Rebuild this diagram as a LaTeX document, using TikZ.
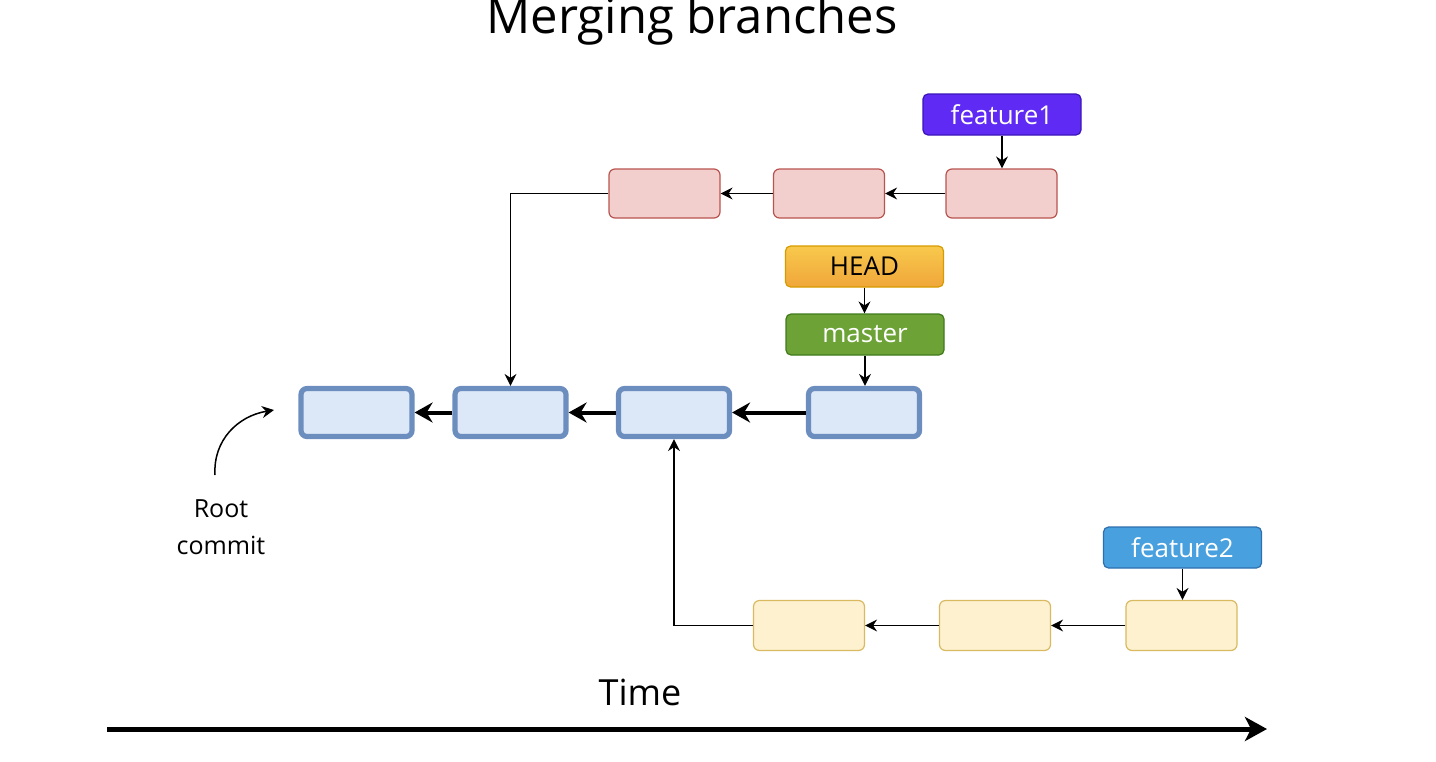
\documentclass[tikz,border=0pt]{standalone}
\usepackage{fontspec}
\setmainfont{Open Sans}
\usetikzlibrary{arrows.meta}

\definecolor{redfill}{HTML}{F2CFCC}
\definecolor{redline}{HTML}{B85450}
\definecolor{bluefill}{HTML}{DCE7F8}
\definecolor{blueline}{HTML}{6C8EBF}
\definecolor{yelfill}{HTML}{FDF1D0}
\definecolor{yelline}{HTML}{D9BA60}
\definecolor{featAfill}{HTML}{5F2AF4}
\definecolor{featAline}{HTML}{3A16B8}
\definecolor{featBfill}{HTML}{48A0DF}
\definecolor{featBline}{HTML}{2F6FAE}
\definecolor{headtop}{HTML}{F8C94C}
\definecolor{headbot}{HTML}{F0A63A}
\definecolor{headline}{HTML}{D79B00}
\definecolor{masterfill}{HTML}{6DA336}
\definecolor{masterline}{HTML}{3F7A1C}

\tikzset{
  commitbase/.style={rectangle, rounded corners=3pt, inner sep=0pt},
  redcommit/.style={commitbase, draw=redline, fill=redfill, line width=0.6pt,
    minimum width=55.5pt, minimum height=24.5pt},
  yelcommit/.style={commitbase, draw=yelline, fill=yelfill, line width=0.6pt,
    minimum width=55.5pt, minimum height=25pt},
  bluecommit/.style={commitbase, draw=blueline, fill=bluefill, line width=2.6pt,
    minimum width=55.5pt, minimum height=24pt},
  refbox/.style={rectangle, rounded corners=2.5pt, inner sep=0pt, line width=0.6pt,
    minimum width=79pt, minimum height=20.5pt, font=\fontsize{13}{15}\selectfont},
  thin/.style={line width=0.75pt, -{Stealth[length=6pt,width=6pt,inset=2pt]}},
  thick/.style={line width=2pt, -{Stealth[length=9pt,width=10pt,inset=3pt]}},
}

\begin{document}
\begin{tikzpicture}[x=0.5pt,y=-0.5pt]
\useasboundingbox (0,0) rectangle (1436,761);

% title
\node[anchor=base, font=\fontsize{24.5}{28}\selectfont] (title) at (692,33) {Merging branches};

% feature1 branch
\node[redcommit] (r1) at (664.5,193.5) {};
\node[redcommit] (r2) at (829,193.5) {};
\node[redcommit] (r3) at (1001.5,193.5) {};
\node[refbox, draw=featAline, fill=featAfill, text=white] (f1) at (1002,114.5) {feature1};

% master branch
\node[bluecommit] (b1) at (356.5,412.5) {};
\node[bluecommit] (b2) at (510.5,412.5) {};
\node[bluecommit] (b3) at (674,412.5) {};
\node[bluecommit] (b4) at (864,412.5) {};
\node[refbox, draw=headline, top color=headtop, bottom color=headbot] (head) at (864.5,266.5) {HEAD};
\node[refbox, draw=masterline, fill=masterfill, text=white] (master) at (865,334.5) {master};

% feature2 branch
\node[yelcommit] (y1) at (809,625.5) {};
\node[yelcommit] (y2) at (995,625.5) {};
\node[yelcommit] (y3) at (1181.5,625.5) {};
\node[refbox, draw=featBline, fill=featBfill, text=white] (f2) at (1182.5,547.5) {feature2};

% parent links
\draw[thin] (r3.west) -- (r2.east);
\draw[thin] (r2.west) -- (r1.east);
\draw[thin] (r1.west) -| (b2.north);
\draw[thick] (b4.west) -- (b3.east);
\draw[thick] (b3.west) -- (b2.east);
\draw[thick] (b2.west) -- (b1.east);
\draw[thin] (y3.west) -- (y2.east);
\draw[thin] (y2.west) -- (y1.east);
\draw[thin] (y1.west) -| (b3.south);

% branch pointers, kept vertical
\draw[thin] (f1.south) -- (f1.south |- r3.north);
\draw[thin] (head.south) -- (head.south |- master.north);
\draw[thin] (master.south) -- (master.south |- b4.north);
\draw[thin] (f2.south) -- (f2.south |- y3.north);

% root commit annotation
\node[anchor=north, inner sep=0pt, align=center, font=\fontsize{12.5}{18.5}\selectfont] (root) at (221,499) {Root\\commit};
\coordinate (rootstart) at (215,475);
\coordinate (roottip) at (274,410);
\draw[thin] (rootstart) .. controls (213,440) and (238,416) .. (roottip);

% time axis
\node[anchor=base, font=\fontsize{18}{22}\selectfont] (time) at (640,705) {Time};
\coordinate (tstart) at (107,729);
\coordinate (tend) at (1267,729);
\draw[line width=2.5pt, -{Stealth[length=11pt,width=12pt,inset=3pt]}] (tstart) -- (tend);
\end{tikzpicture}
\end{document}
